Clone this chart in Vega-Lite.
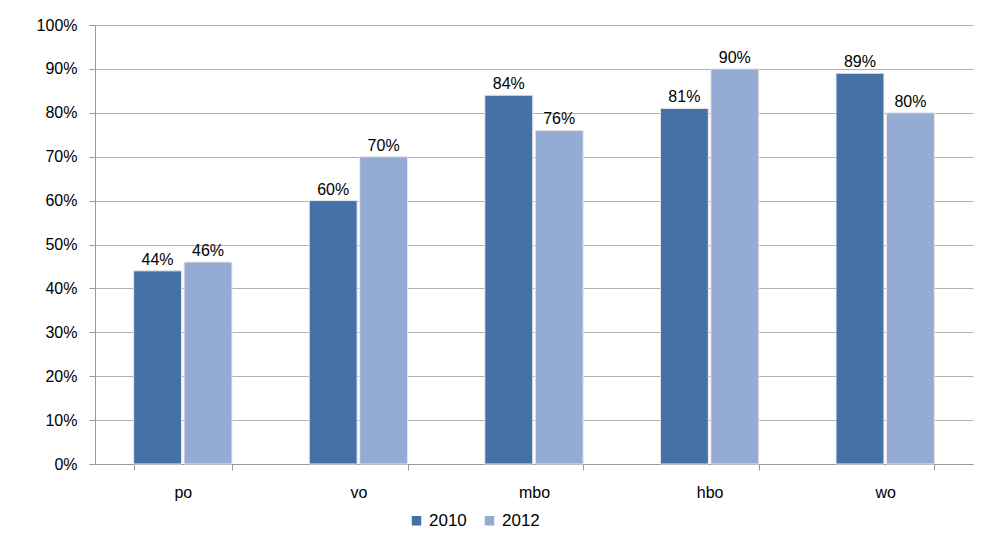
{
  "$schema": "https://vega.github.io/schema/vega-lite/v6.json",
  "autosize": "none",
  "width": 878,
  "height": 439,
  "padding": {"left": 95, "top": 25, "right": 11, "bottom": 76},
  "background": "#ffffff",
  "config": {
    "view": {"stroke": null},
    "font": "Liberation Sans",
    "axis": {"labelFont": "Liberation Sans", "labelFontSize": 16, "labelColor": "#000000"}
  },
  "data": {
    "values": [
      {"level": "po", "year": "2010", "value": 0.44},
      {"level": "po", "year": "2012", "value": 0.46},
      {"level": "vo", "year": "2010", "value": 0.60},
      {"level": "vo", "year": "2012", "value": 0.70},
      {"level": "mbo", "year": "2010", "value": 0.84},
      {"level": "mbo", "year": "2012", "value": 0.76},
      {"level": "hbo", "year": "2010", "value": 0.81},
      {"level": "hbo", "year": "2012", "value": 0.90},
      {"level": "wo", "year": "2010", "value": 0.89},
      {"level": "wo", "year": "2012", "value": 0.80}
    ]
  },
  "encoding": {
    "x": {
      "field": "level", "type": "nominal", "sort": ["po", "vo", "mbo", "hbo", "wo"],
      "scale": {"paddingInner": 0.44, "paddingOuter": 0.22},
      "axis": {"title": null, "labelAngle": 0, "bandPosition": 0, "tickBand": "extent", "domainColor": "#999999", "tickColor": "#999999", "tickSize": 6, "labelPadding": 14, "grid": false}
    },
    "xOffset": {"field": "year", "type": "nominal", "scale": {"paddingInner": 0.05}},
    "y": {
      "field": "value", "type": "quantitative",
      "scale": {"domain": [0, 1], "nice": false},
      "axis": {"title": null, "format": ".0%", "values": [0,0.1,0.2,0.3,0.4,0.5,0.6,0.7,0.8,0.9,1.0], "labelOverlap": false, "labelFontSize": 16, "gridColor": "#b0b0b0", "gridWidth": 1, "domainColor": "#999999", "tickColor": "#999999", "tickSize": 6, "labelPadding": 12}
    }
  },
  "layer": [
    {
      "mark": {"type": "bar", "stroke": "#e8e8e8", "strokeWidth": 1},
      "encoding": {
        "color": {
          "field": "year", "type": "nominal",
          "scale": {"domain": ["2010", "2012"], "range": ["#4671a7", "#94abd3"]},
          "legend": {
            "title": null, "orient": "none", "direction": "horizontal",
            "legendX": 313, "legendY": 487, "symbolType": "square", "symbolSize": 90,
            "labelFontSize": 17, "labelFont": "Liberation Sans", "labelColor": "#000000",
            "columnPadding": 14, "symbolStrokeWidth": 0
          }
        }
      }
    },
    {
      "mark": {"type": "text", "dy": -11, "fontSize": 16, "font": "Liberation Sans", "color": "#000000"},
      "encoding": {"text": {"field": "value", "type": "quantitative", "format": ".0%"}}
    }
  ]
}
